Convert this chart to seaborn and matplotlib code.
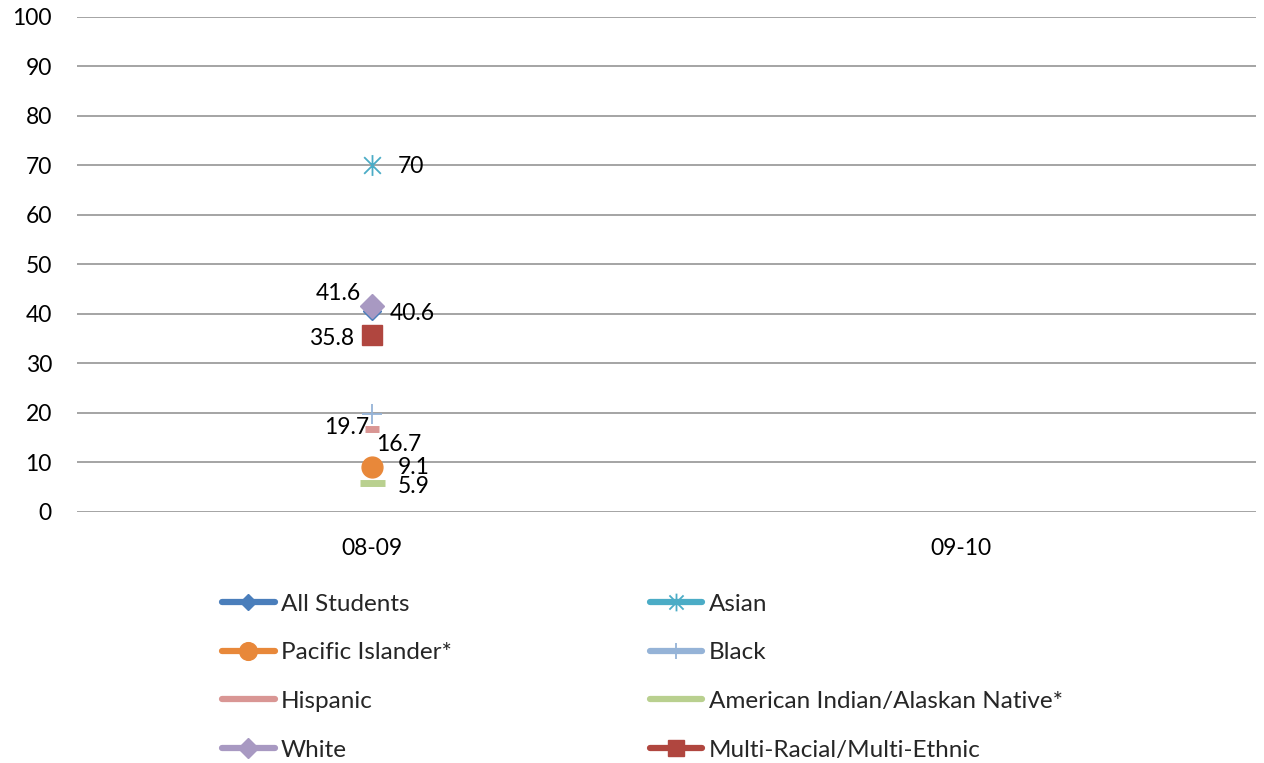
import matplotlib
matplotlib.use("Agg")
import matplotlib.pyplot as plt
from matplotlib.lines import Line2D
from matplotlib.path import Path
import seaborn as sns
import pandas as pd
import numpy as np

categories = ["08-09", "09-10"]
series_names = ["All Students", "Asian", "Pacific Islander*", "Black", "Hispanic",
                "American Indian/Alaskan Native*", "White", "Multi-Racial/Multi-Ethnic"]
all_students = [40.6, np.nan]
asian = [70, np.nan]
pacific_islander = [9.1, np.nan]
black = [19.7, np.nan]
hispanic = [16.7, np.nan]
american_indian = [5.9, np.nan]
white = [41.6, np.nan]
multi_racial = [35.8, np.nan]
values = [all_students, asian, pacific_islander, black, hispanic, american_indian, white, multi_racial]

asterisk = Path([(0, -1), (0, 1), (-0.8, -0.8), (0.8, 0.8), (-0.8, 0.8), (0.8, -0.8)],
                [Path.MOVETO, Path.LINETO, Path.MOVETO, Path.LINETO, Path.MOVETO, Path.LINETO])

colors = ["#4A7EBB", "#4BACC6", "#E8883A", "#95B3D7", "#D99694", "#B9D08F", "#A899C2", "#B0463F"]
markers = ["D", asterisk, "o", "+", "_", "_", "D", "s"]
msizes = [9, 15, 15, 14, 10, 18, 12, 14]
mews = [1, 1.3, 1, 1.3, 5, 5, 1, 1]
FS = 16.5
LFS = 17.5
# label offsets in pixels (dx, dy), ha
label_pos = [(18, -3, "left"), (26, -1, "left"), (26, -1, "left"), (-3, -13, "right"),
             (4, -15, "left"), (26, -4, "left"), (-11, 13, "right"), (-18, -4, "right")]

rows = []
for name, vals in zip(series_names, values):
    for i, c in enumerate(categories):
        rows.append({"series": name, "x": i, "value": vals[i]})
df = pd.DataFrame(rows)

sns.set_theme(style="white")
plt.rcParams["font.family"] = ["Lato", "DejaVu Sans"]

fig = plt.figure(figsize=(12.64, 7.63), dpi=100)
ax = fig.add_axes([0.0609, 0.329, 0.9328, 0.6488])

for name, col, mk, ms, mew in zip(series_names, colors, markers, msizes, mews):
    sub = df[df["series"] == name]
    sns.lineplot(data=sub, x="x", y="value", ax=ax, color=col, marker=mk,
                 markersize=ms, markeredgewidth=mew, markeredgecolor=col,
                 linewidth=3, legend=False, zorder=3)

for name, vals, (dx, dy, ha) in zip(series_names, values, label_pos):
    v = vals[0]
    ax.annotate(f"{v:g}", xy=(0, v), xytext=(dx * 0.72, dy * 0.72), textcoords="offset points",
                ha=ha, va="center", fontsize=FS, color="#000000", zorder=5)

ax.set_xlim(-0.5, 1.5)
ax.set_ylim(0, 100)
ax.set_yticks(range(0, 101, 10))
ax.set_xticks([0, 1])
ax.set_xticklabels(categories)
ax.set_xlabel("")
ax.set_ylabel("")
ax.tick_params(axis="both", labelsize=FS, length=0, colors="#000000")
ax.tick_params(axis="y", pad=18)
ax.tick_params(axis="x", pad=19)
ax.yaxis.grid(True, color="#8C8C8C", linewidth=1.1)
ax.set_axisbelow(True)
for s in ["top", "right", "left", "bottom"]:
    ax.spines[s].set_visible(False)

handles = {}
for name, col, mk, ms, mew in zip(series_names, colors, markers, msizes, mews):
    if isinstance(mk, str) and mk == "_":
        h = Line2D([], [], color=col, linewidth=4.5)
    else:
        h = Line2D([], [], color=col, marker=mk, markersize=ms * 0.85, markeredgewidth=mew,
                   markeredgecolor=col, linewidth=4.5)
    handles[name] = h

# row-wise order in a 2-column legend (matplotlib fills columns first)
order = [series_names[i] for i in [0, 2, 4, 6, 1, 3, 5, 7]]
leg = fig.legend(handles=[handles[n] for n in order], labels=order, ncol=2, loc="upper left",
                 bbox_to_anchor=(0.1756, 0.2221), frameon=False, fontsize=LFS,
                 handlelength=2.18, handletextpad=0.25, columnspacing=8.13,
                 labelspacing=1.14, borderaxespad=0, borderpad=0)

fig.savefig("out.png", dpi=100)
